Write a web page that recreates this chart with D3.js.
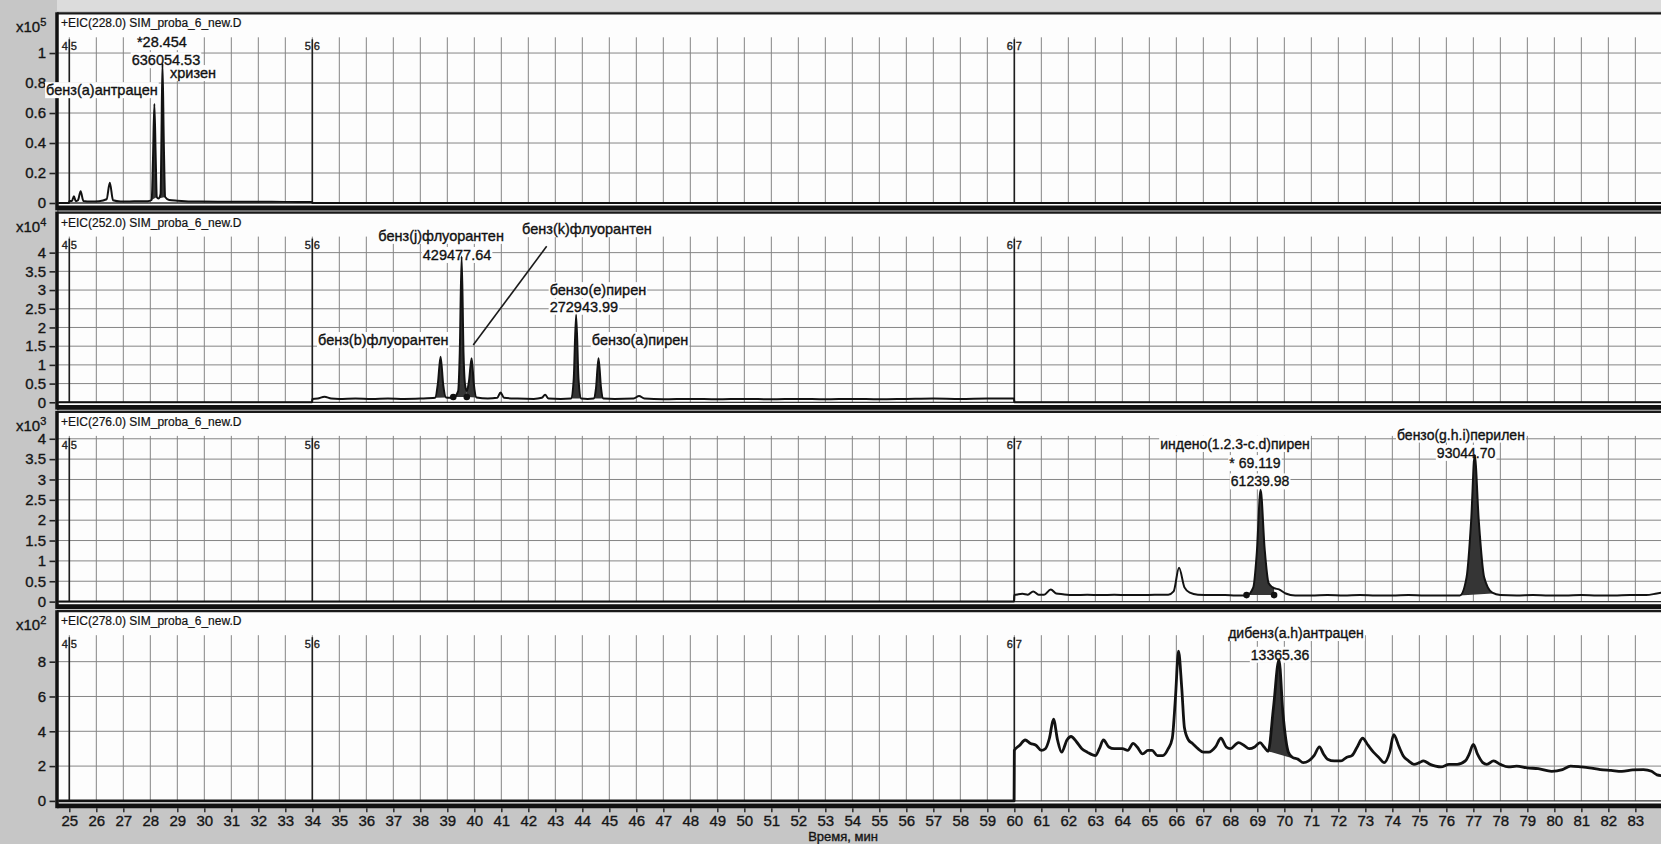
<!DOCTYPE html>
<html>
<head>
<meta charset="utf-8">
<script src="https://cdn.jsdelivr.net/npm/d3@7"></script>
<style>
  html, body { margin: 0; padding: 0; background: #c5c5c5; overflow: hidden; }
  svg { display: block; font-family: "Liberation Sans", Arial, sans-serif; }
  svg text { stroke: #151515; stroke-width: 0.35px; paint-order: stroke; }
</style>
</head>
<body>
<div id="chart"></div>
<script>
// ---- data ----
const timeTicks = [25, 26, 27, 28, 29, 30, 31, 32, 33, 34, 35, 36, 37, 38, 39, 40, 41, 42, 43, 44,
  45, 46, 47, 48, 49, 50, 51, 52, 53, 54, 55, 56, 57, 58, 59, 60, 61, 62, 63, 64, 65, 66, 67, 68,
  69, 70, 71, 72, 73, 74, 75, 76, 77, 78, 79, 80, 81, 82, 83];
const timeDomain = [24.544, 83.95];
const segmentBreaks = [25, 34, 60];
const segmentLabels = [['4', '5'], ['5', '6'], ['6', '7']];

const panelTitles = [
  '+EIC(228.0) SIM_proba_6_new.D',
  '+EIC(252.0) SIM_proba_6_new.D',
  '+EIC(276.0) SIM_proba_6_new.D',
  '+EIC(278.0) SIM_proba_6_new.D'
];
const panelExponents = ['5', '4', '3', '2'];
const panelMax = [1.265, 5.07, 4.66, 10.9];
const ticks228 = [0, 0.2, 0.4, 0.6, 0.8, 1];
const tickLabels228 = ['0', '0.2', '0.4', '0.6', '0.8', '1'];
const ticks252 = [0, 0.5, 1, 1.5, 2, 2.5, 3, 3.5, 4];
const tickLabels252 = ['0', '0.5', '1', '1.5', '2', '2.5', '3', '3.5', '4'];
const ticks276 = [0, 0.5, 1, 1.5, 2, 2.5, 3, 3.5, 4];
const tickLabels276 = ['0', '0.5', '1', '1.5', '2', '2.5', '3', '3.5', '4'];
const ticks278 = [0, 2, 4, 6, 8];
const tickLabels278 = ['0', '2', '4', '6', '8'];

// [time (min), abundance in panel units]
const trace228 = [[24.5, 0], [24.99, 0], [25.0, 0.012], [25.1, 0.015], [25.17, 0.045], [25.24, 0.012],
  [25.32, 0.018], [25.42, 0.078], [25.52, 0.014], [25.8, 0.01], [26.1, 0.012], [26.38, 0.025],
  [26.5, 0.135], [26.62, 0.018], [26.9, 0.01], [27.4, 0.011], [27.9, 0.012], [28.05, 0.02],
  [28.1, 0.3], [28.15, 0.66], [28.2, 0.3], [28.24, 0.04], [28.3, 0.03], [28.38, 0.06], [28.41, 0.4],
  [28.45, 0.93], [28.5, 0.4], [28.55, 0.04], [28.7, 0.02], [29.0, 0.015], [29.5, 0.01], [30.5, 0.009],
  [31.5, 0.008], [32.5, 0.008], [33.5, 0.007], [33.99, 0.007], [34.0, 0], [84, 0]];

const trace252 = [[24.5, 0], [33.99, 0], [34.0, 0.09], [34.2, 0.1], [34.45, 0.15], [34.7, 0.1],
  [35.0, 0.09], [35.6, 0.1], [36.2, 0.09], [36.8, 0.1], [37.4, 0.09], [38.0, 0.1], [38.55, 0.12],
  [38.65, 0.5], [38.75, 1.22], [38.85, 0.45], [38.95, 0.13], [39.1, 0.12], [39.22, 0.12], [39.4, 0.3],
  [39.46, 1.3], [39.53, 3.9], [39.6, 1.3], [39.66, 0.45], [39.72, 0.3], [39.8, 0.55], [39.9, 1.18],
  [39.98, 0.5], [40.08, 0.13], [40.5, 0.1], [40.85, 0.12], [40.97, 0.26], [41.1, 0.12], [41.6, 0.1],
  [42.2, 0.09], [42.5, 0.12], [42.62, 0.2], [42.75, 0.1], [43.2, 0.09], [43.58, 0.1], [43.68, 0.6],
  [43.77, 2.34], [43.86, 0.6], [43.96, 0.1], [44.2, 0.09], [44.42, 0.1], [44.51, 0.4], [44.6, 1.18],
  [44.69, 0.4], [44.78, 0.1], [45.2, 0.09], [45.9, 0.1], [46.1, 0.17], [46.3, 0.1], [47, 0.08],
  [48, 0.09], [49, 0.08], [50, 0.09], [51, 0.08], [52, 0.09], [53, 0.08], [54, 0.09], [55, 0.08],
  [56, 0.09], [57, 0.1], [58, 0.09], [59, 0.1], [59.99, 0.1], [60.0, 0], [84, 0]];

const trace276 = [[24.5, 0], [59.99, 0], [60.0, 0.16], [60.15, 0.18], [60.3, 0.19], [60.5, 0.17],
  [60.7, 0.25], [60.9, 0.17], [61.1, 0.17], [61.35, 0.3], [61.55, 0.2], [61.8, 0.18], [62.2, 0.16],
  [62.7, 0.17], [63.2, 0.16], [63.7, 0.17], [64.2, 0.16], [64.7, 0.16], [65.2, 0.17], [65.7, 0.17],
  [65.9, 0.25], [66.1, 0.83], [66.3, 0.35], [66.5, 0.22], [66.8, 0.17], [67.3, 0.16], [67.8, 0.16],
  [68.2, 0.15], [68.6, 0.15], [68.85, 0.35], [68.98, 1.2], [69.12, 2.75], [69.27, 1.3], [69.42, 0.45],
  [69.62, 0.33], [69.8, 0.3], [70.05, 0.2], [70.4, 0.15], [71, 0.15], [71.6, 0.16], [72.2, 0.15],
  [72.8, 0.16], [73.4, 0.15], [74, 0.15], [74.6, 0.16], [75.2, 0.15], [75.8, 0.15], [76.2, 0.15],
  [76.5, 0.15], [76.75, 0.6], [76.92, 2.0], [77.05, 3.6], [77.2, 2.0], [77.4, 0.6], [77.7, 0.22],
  [78.0, 0.16], [78.6, 0.15], [79.2, 0.16], [79.8, 0.15], [80.4, 0.15], [81, 0.16], [81.6, 0.15],
  [82.2, 0.15], [82.8, 0.16], [83.4, 0.16], [83.8, 0.2], [84, 0.22]];

const trace278 = [[24.5, 0], [59.99, 0], [60.0, 2.9], [60.2, 3.2], [60.4, 3.5], [60.6, 3.3], [60.8, 3.2],
  [61.0, 2.9], [61.15, 3.0], [61.3, 3.6], [61.45, 4.7], [61.6, 3.5], [61.75, 2.8], [61.95, 3.5],
  [62.1, 3.7], [62.3, 3.4], [62.5, 3.0], [62.7, 2.8], [63.0, 2.6], [63.15, 3.0], [63.3, 3.5],
  [63.5, 3.1], [63.7, 3.0], [64.0, 3.0], [64.2, 2.9], [64.4, 3.3], [64.55, 3.1], [64.75, 2.7],
  [64.95, 2.9], [65.1, 2.9], [65.3, 2.6], [65.5, 2.6], [65.7, 3.0], [65.85, 3.6], [65.97, 6.0],
  [66.08, 8.6], [66.2, 6.5], [66.3, 4.2], [66.45, 3.5], [66.6, 3.3], [66.8, 3.0], [67.0, 2.8],
  [67.2, 2.8], [67.45, 3.1], [67.65, 3.6], [67.85, 3.1], [68.0, 3.0], [68.3, 3.35], [68.5, 3.2],
  [68.7, 3.0], [68.9, 3.1], [69.1, 3.35], [69.25, 3.1], [69.4, 2.85], [69.6, 5.4], [69.8, 8.1],
  [69.95, 5.0], [70.15, 2.8], [70.3, 2.5], [70.5, 2.4], [70.7, 2.2], [70.9, 2.3], [71.1, 2.6],
  [71.3, 3.1], [71.45, 2.7], [71.6, 2.4], [71.85, 2.3], [72.1, 2.3], [72.3, 2.5], [72.5, 2.6],
  [72.7, 3.1], [72.9, 3.6], [73.1, 3.2], [73.3, 2.8], [73.5, 2.5], [73.7, 2.2], [73.9, 2.8],
  [74.05, 3.8], [74.25, 3.1], [74.4, 2.6], [74.6, 2.3], [74.8, 2.1], [75.0, 2.2], [75.15, 2.3],
  [75.4, 2.1], [75.6, 2.0], [75.8, 1.95], [76.1, 2.1], [76.4, 2.1], [76.7, 2.3], [76.85, 2.7],
  [77.0, 3.25], [77.15, 2.7], [77.35, 2.2], [77.5, 2.1], [77.75, 2.3], [78.0, 2.1], [78.3, 1.95],
  [78.6, 2.0], [79.0, 1.9], [79.4, 1.85], [79.9, 1.7], [80.3, 1.8], [80.6, 2.0], [81.0, 1.95],
  [81.3, 1.9], [81.7, 1.8], [82.1, 1.75], [82.5, 1.7], [82.9, 1.78], [83.3, 1.8], [83.6, 1.7],
  [83.8, 1.5], [84, 1.45]];

// integrated peaks: [from, to, baseline at from, baseline at to]
const fills228 = [[28.05, 28.24, 0.02, 0.04], [28.3, 28.55, 0.03, 0.04]];
const fills252 = [[38.55, 38.95, 0.12, 0.13], [39.22, 39.72, 0.14, 0.14], [39.72, 40.08, 0.14, 0.13],
  [43.58, 43.96, 0.1, 0.1], [44.42, 44.78, 0.1, 0.1]];
const fills276 = [[68.6, 69.62, 0.16, 0.16], [76.5, 77.7, 0.15, 0.2]];
const fills278 = [[69.4, 70.3, 2.85, 2.45]];

const baselineDots252 = [[39.22, 0.14], [39.72, 0.14]];
const baselineDots276 = [[68.6, 0.16], [69.62, 0.16]];

// peak annotations, placed in data coordinates
const labels228 = [
  { text: '*28.454', t: 28.43, v: 1.073, anchor: 'middle' },
  { text: '636054.53', t: 28.58, v: 0.953, anchor: 'middle' },
  { text: 'хризен', t: 28.73, v: 0.867, anchor: 'start' },
  { text: 'бенз(a)антрацен', t: 24.14, v: 0.753, anchor: 'start' }
];
const labels252 = [
  { text: 'бенз(j)флуорантен', t: 38.77, v: 4.45, anchor: 'middle' },
  { text: '429477.64', t: 39.36, v: 3.94, anchor: 'middle' },
  { text: 'бенз(k)флуорантен', t: 44.17, v: 4.63, anchor: 'middle' },
  { text: 'бензо(e)пирен', t: 42.79, v: 3.0, anchor: 'start' },
  { text: '272943.99', t: 42.79, v: 2.556, anchor: 'start' },
  { text: 'бенз(b)флуорантен', t: 34.21, v: 1.666, anchor: 'start' },
  { text: 'бензо(a)пирен', t: 44.35, v: 1.666, anchor: 'start' }
];
const labels276 = [
  { text: 'индено(1.2.3-c.d)пирен', t: 68.17, v: 3.87, anchor: 'middle' },
  { text: '* 69.119', t: 68.91, v: 3.40, anchor: 'middle' },
  { text: '61239.98', t: 69.1, v: 2.95, anchor: 'middle' },
  { text: 'бензо(g.h.i)перилен', t: 76.54, v: 4.10, anchor: 'middle' },
  { text: '93044.70', t: 76.73, v: 3.65, anchor: 'middle' }
];
const labels278 = [
  { text: 'дибенз(a.h)антрацен', t: 70.43, v: 9.64, anchor: 'middle' },
  { text: '13365.36', t: 69.84, v: 8.39, anchor: 'middle' }
];
const leader252 = [[42.68, 4.17], [39.96, 1.53]];

const panels = [
  { title: panelTitles[0], exp: panelExponents[0], max: panelMax[0], ticks: ticks228, tickLabels: tickLabels228,
    trace: trace228, fills: fills228, dots: [], labels: labels228, leader: null, lw: 2, fs: 14.5 },
  { title: panelTitles[1], exp: panelExponents[1], max: panelMax[1], ticks: ticks252, tickLabels: tickLabels252,
    trace: trace252, fills: fills252, dots: baselineDots252, labels: labels252, leader: leader252, lw: 2, fs: 14.5 },
  { title: panelTitles[2], exp: panelExponents[2], max: panelMax[2], ticks: ticks276, tickLabels: tickLabels276,
    trace: trace276, fills: fills276, dots: baselineDots276, labels: labels276, leader: null, lw: 2, fs: 14 },
  { title: panelTitles[3], exp: panelExponents[3], max: panelMax[3], ticks: ticks278, tickLabels: tickLabels278,
    trace: trace278, fills: fills278, dots: [], labels: labels278, leader: null, lw: 2.8, fs: 14 }
];

// ---- layout ----
const W = 1661, H = 844;
const plotLeft = 57, plotRight = 1661;
const panelTop0 = 13.3, panelPitch = 199.3, panelHeight = 189.7;

const svg = d3.select('#chart').append('svg').attr('width', W).attr('height', H);
svg.append('rect').attr('width', W).attr('height', H).attr('fill', '#c6c6c6');
svg.append('rect').attr('x', plotLeft).attr('width', W - plotLeft).attr('height', 11).attr('fill', '#dcdcdc');

const x = d3.scaleLinear().domain(timeDomain).range([plotLeft, plotRight]);

panels.forEach((p, i) => {
  const top = panelTop0 + i * panelPitch;
  const zero = top + panelHeight;
  const y = d3.scaleLinear().domain([0, p.max]).range([zero, top]);
  const g = svg.append('g');

  g.append('rect')
    .attr('x', plotLeft).attr('y', top)
    .attr('width', plotRight - plotLeft).attr('height', zero - top + 3)
    .attr('fill', '#fdfdfd');

  // grid
  g.append('g').selectAll('line')
    .data(p.ticks.filter(v => v > 0))
    .join('line')
    .attr('x1', plotLeft).attr('x2', plotRight)
    .attr('y1', d => y(d)).attr('y2', d => y(d))
    .attr('stroke', '#858585').attr('stroke-width', 1);

  g.append('g').selectAll('line')
    .data(timeTicks)
    .join('line')
    .attr('x1', d => x(d)).attr('x2', d => x(d))
    .attr('y1', top + 24).attr('y2', zero)
    .attr('stroke', '#858585').attr('stroke-width', 1);

  // segment markers
  segmentBreaks.forEach((t, k) => {
    g.append('line')
      .attr('x1', x(t)).attr('x2', x(t))
      .attr('y1', top + 26).attr('y2', zero)
      .attr('stroke', '#1e1e1e').attr('stroke-width', 1.6);
    g.append('text').attr('x', x(t) - 1.5).attr('y', top + 33).attr('dy', '0.35em')
      .attr('text-anchor', 'end').attr('font-size', 11).attr('fill', '#222')
      .text(segmentLabels[k][0]);
    g.append('text').attr('x', x(t) + 1.5).attr('y', top + 33).attr('dy', '0.35em')
      .attr('text-anchor', 'start').attr('font-size', 11).attr('fill', '#222')
      .text(segmentLabels[k][1]);
  });

  // frame
  g.append('line').attr('x1', plotLeft).attr('x2', plotRight).attr('y1', top).attr('y2', top)
    .attr('stroke', '#1a1a1a').attr('stroke-width', 2.2);
  g.append('line').attr('x1', plotLeft).attr('x2', plotRight).attr('y1', zero).attr('y2', zero)
    .attr('stroke', '#333').attr('stroke-width', 1.3);
  g.append('line').attr('x1', plotLeft).attr('x2', plotRight).attr('y1', zero + 5).attr('y2', zero + 5)
    .attr('stroke', '#111').attr('stroke-width', 4.8);
  g.append('line').attr('x1', plotLeft).attr('x2', plotLeft).attr('y1', top - 1).attr('y2', zero + 7.3)
    .attr('stroke', '#111').attr('stroke-width', 3.5);

  // y axis
  const ax = g.append('g')
    .attr('transform', `translate(${plotLeft - 1.5},0)`)
    .call(d3.axisLeft(y).tickValues(p.ticks).tickFormat((d, k) => p.tickLabels[k]).tickSize(6).tickPadding(3.5));
  ax.select('.domain').remove();
  ax.selectAll('.tick line').attr('stroke', '#222').attr('stroke-width', 1.6);
  ax.selectAll('.tick text').attr('font-size', 15).attr('fill', '#151515')
    .attr('font-family', '"Liberation Sans", Arial, sans-serif');

  // multiplier and title
  const mult = g.append('text').attr('x', 16).attr('y', top + 19).attr('font-size', 15).attr('fill', '#151515');
  mult.append('tspan').text('x10');
  mult.append('tspan').attr('dy', -6).attr('font-size', 11).text(p.exp);

  g.append('text').attr('x', 61).attr('y', top + 14).attr('font-size', 12).attr('fill', '#111')
    .style('stroke-width', '0.2px')
    .text(p.title);

  // annotation layers
  const bgLayer = g.append('g');
  const clipId = `clip${i}`;
  g.append('clipPath').attr('id', clipId).append('rect')
    .attr('x', plotLeft + 1.5).attr('y', top).attr('width', plotRight - plotLeft).attr('height', zero - top + 2);
  const dataLayer = g.append('g').attr('clip-path', `url(#${clipId})`);
  const textLayer = g.append('g');

  const line = d3.line().x(d => x(d[0])).y(d => y(d[1])).curve(d3.curveMonotoneX);

  // integrated peaks
  p.fills.forEach(f => {
    const pts = p.trace.filter(d => d[0] >= f[0] && d[0] <= f[1]);
    const path = line(pts) + `L${x(f[1])},${y(f[3])}L${x(f[0])},${y(f[2])}Z`;
    dataLayer.append('path').attr('d', path).attr('fill', '#353535').attr('stroke', 'none');
  });

  dataLayer.append('path').datum(p.trace)
    .attr('d', line)
    .attr('fill', 'none').attr('stroke', '#121212')
    .attr('stroke-width', p.lw).attr('stroke-linejoin', 'round');

  dataLayer.selectAll('circle.dot').data(p.dots).join('circle')
    .attr('class', 'dot')
    .attr('cx', d => x(d[0])).attr('cy', d => y(d[1])).attr('r', 3.3)
    .attr('fill', '#111');

  if (p.leader) {
    textLayer.append('line')
      .attr('x1', x(p.leader[0][0])).attr('y1', y(p.leader[0][1]))
      .attr('x2', x(p.leader[1][0])).attr('y2', y(p.leader[1][1]))
      .attr('stroke', '#1a1a1a').attr('stroke-width', 1.6);
  }

  p.labels.forEach(l => {
    const t = textLayer.append('text')
      .attr('x', x(l.t)).attr('y', y(l.v)).attr('dy', '0.35em')
      .attr('text-anchor', l.anchor).attr('font-size', p.fs).attr('fill', '#111')
      .text(l.text);
    const b = t.node().getBBox();
    bgLayer.append('rect')
      .attr('x', b.x - 1).attr('y', b.y)
      .attr('width', b.width + 2).attr('height', b.height)
      .attr('fill', '#fdfdfd');
  });
  // labels crossing the left border sit above the frame
  bgLayer.raise();
  dataLayer.raise();
  textLayer.raise();
});

// shared time axis
const lastZero = panelTop0 + 3 * panelPitch + panelHeight;
const xAxis = svg.append('g')
  .attr('transform', `translate(0,${lastZero + 7.3})`)
  .call(d3.axisBottom(x).tickValues(timeTicks).tickSize(4).tickPadding(3));
xAxis.select('.domain').remove();
xAxis.selectAll('.tick line').attr('stroke', '#222').attr('stroke-width', 1.4);
xAxis.selectAll('.tick text').attr('font-size', 15).attr('fill', '#151515')
  .attr('font-family', '"Liberation Sans", Arial, sans-serif');

svg.append('text')
  .attr('x', 843).attr('y', 841)
  .attr('text-anchor', 'middle').attr('font-size', 13).attr('fill', '#151515')
  .text('Время, мин');
</script>
</body>
</html>
